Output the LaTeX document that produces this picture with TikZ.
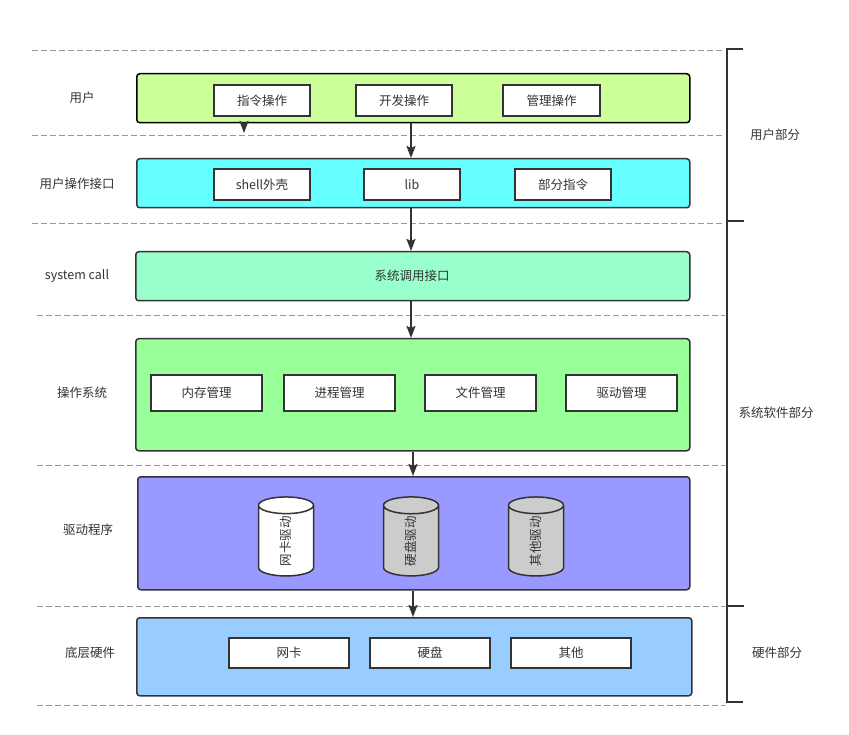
\documentclass[tikz,border=0pt]{standalone}
\usepackage{fontspec}
\setmainfont{Noto Sans CJK SC}
\usepackage{tikz}
\usetikzlibrary{positioning, arrows.meta, shapes.geometric}

\definecolor{ink}{HTML}{333333}
\definecolor{userGreen}{HTML}{CCFF99}
\definecolor{apiCyan}{HTML}{66FFFF}
\definecolor{sysMint}{HTML}{99FFCC}
\definecolor{osGreen}{HTML}{99FF99}
\definecolor{drvBlue}{HTML}{9999FF}
\definecolor{hwBlue}{HTML}{99CCFF}
\definecolor{diskGray}{HTML}{CCCCCC}

\tikzset{
  layer/.style={draw=ink, line width=1.5pt, rounded corners=3pt, anchor=north west, inner sep=0pt},
  item/.style={draw=ink, line width=1.5pt, fill=white, minimum height=31pt, inner sep=0pt},
  drum/.style={cylinder, draw=ink, line width=1.5pt, rotate=90, minimum height=79pt, minimum width=55pt, aspect=1.45, inner sep=0pt},
  sep/.style={dashed, gray!80, line width=0.8pt, dash pattern=on 6pt off 3pt},
  flow/.style={-{Stealth[length=12pt,width=9pt,inset=2pt]}, draw=ink, line width=1.6pt}
}

\begin{document}
\begin{tikzpicture}[x=1pt, y=-1pt, font=\fontsize{12.5}{15}\selectfont, text=ink]
  \useasboundingbox (0,0) rectangle (849,735);

  % Separators
  \draw[sep] (32,50) -- (722,50);
  \draw[sep] (32,135) -- (722,135);
  \draw[sep] (32,223) -- (722,223);
  \draw[sep] (37,315) -- (725,315);
  \draw[sep] (37,465) -- (725,465);
  \draw[sep] (37,606) -- (725,606);
  \draw[sep] (37,705) -- (725,705);

  % Layers
  \node (User) [layer, fill=userGreen, draw=black, minimum width=553pt, minimum height=49pt] at (136,73) {};
  \node (Shell) [layer, fill=apiCyan, minimum width=553pt, minimum height=49pt] at (136,158) {};
  \node (SysCall) [layer, fill=sysMint, minimum width=554pt, minimum height=49pt] at (135,251) {};
  \node (Kernel) [layer, fill=osGreen, minimum width=554pt, minimum height=112pt] at (135,338) {};
  \node (Driver) [layer, fill=drvBlue, minimum width=552pt, minimum height=113pt] at (137,476) {};
  \node (Hardware) [layer, fill=hwBlue, minimum width=555pt, minimum height=78pt] at (136,617) {};

  % Layer names
  \node (UserName) at (82,98) {用户};
  \node (ShellName) at (77,184) {用户操作接口};
  \node (SysCallName) at (77,276) {system call};
  \node (KernelName) at (82,393) {操作系统};
  \node (DriverName) at (88,530) {驱动程序};
  \node (HardwareName) at (90,653) {底层硬件};

  % User
  \node (CmdOp) [item, minimum width=96pt] at (262,100.5) {指令操作};
  \node (DevOp) [item, minimum width=96pt, right=44.5pt of CmdOp] {开发操作};
  \node (AdmOp) [item, minimum width=97pt, right=49.5pt of DevOp] {管理操作};

  % User interface
  \node (ShellOut) [item, minimum width=96pt] at (262,184.5) {shell外壳};
  \node (Lib) [item, minimum width=96pt, right=52.5pt of ShellOut] {lib};
  \node (PartCmd) [item, minimum width=96pt, right=53.5pt of Lib] {部分指令};

  % System call
  \node (SysCallText) at (412,275.5) {系统调用接口};

  % Kernel
  \node (MemMgr) [item, minimum width=111pt, minimum height=36pt] at (206.5,393) {内存管理};
  \node (ProcMgr) [item, minimum width=111pt, minimum height=36pt, right=20.5pt of MemMgr] {进程管理};
  \node (FileMgr) [item, minimum width=111pt, minimum height=36pt, right=28.5pt of ProcMgr] {文件管理};
  \node (DevMgr) [item, minimum width=111pt, minimum height=36pt, right=28.5pt of FileMgr] {驱动管理};

  % Drivers
  \node (NicDrv) [drum, fill=white] at (286,541) {网卡驱动};
  \node (DiskDrv) [drum, fill=diskGray] at (411,541) {硬盘驱动};
  \node (OtherDrv) [drum, fill=diskGray] at (536,541) {其他驱动};

  % Hardware
  \node (Nic) [item, minimum width=120pt, minimum height=30pt] at (289,653) {网卡};
  \node (Disk) [item, minimum width=120pt, minimum height=30pt, right=19.5pt of Nic] {硬盘};
  \node (Other) [item, minimum width=120pt, minimum height=30pt, right=19.5pt of Disk] {其他};

  % Parts
  \draw[ink, line width=2pt] (743,49) -- (727,49) -- (727,702) -- (743,702);
  \draw[ink, line width=2pt] (727,221) -- (744,221);
  \draw[ink, line width=2pt] (727,606) -- (744,606);
  \node (UserPart) at (775,135) {用户部分};
  \node (SysPart) at (776,413) {系统软件部分};
  \node (HwPart) at (777,653) {硬件部分};

  % Arrows
  \coordinate (Stub) at (244,133);
  \draw[flow] (User.south -| Stub) -- (Stub);
  \draw[flow] (User.south -| 411,0) -- (Shell.north -| 411,0);
  \draw[flow] (Shell.south -| 411,0) -- (SysCall.north -| 411,0);
  \draw[flow] (SysCall.south -| 411,0) -- (Kernel.north -| 411,0);
  \draw[flow] (Kernel.south -| 413,0) -- (Driver.north -| 413,0);
  \draw[flow] (Driver.south -| 413,0) -- (Hardware.north -| 413,0);
\end{tikzpicture}
\end{document}
